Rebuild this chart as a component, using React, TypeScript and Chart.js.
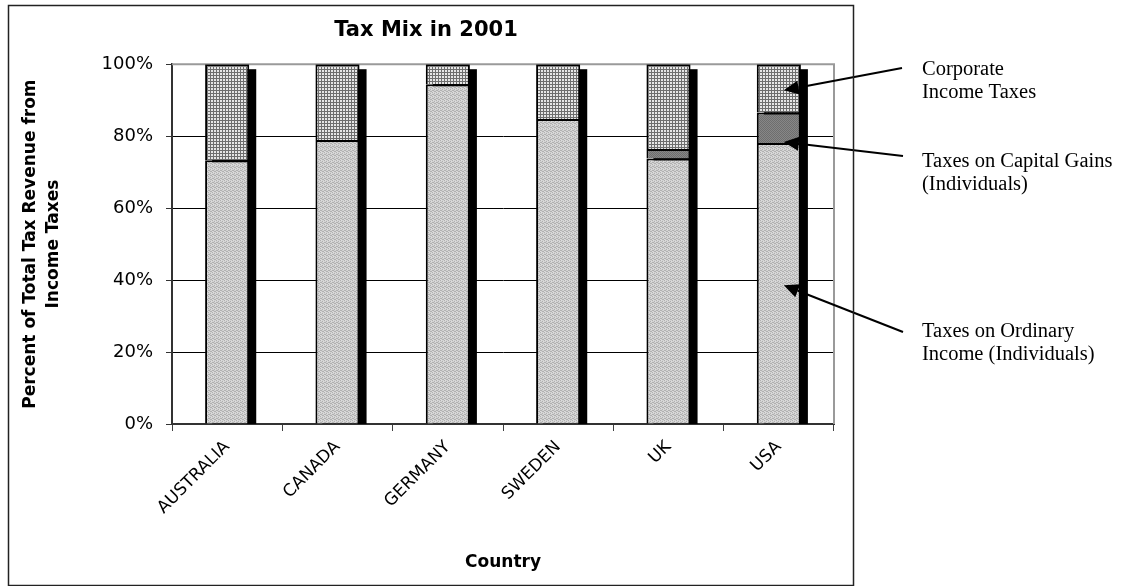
import { useEffect, useRef } from "react";
import { Chart, registerables } from "chart.js";

Chart.register(...registerables);

// Share of total income-tax revenue (%) by country, 2001
const countries = ["AUSTRALIA", "CANADA", "GERMANY", "SWEDEN", "UK", "USA"];
const ordinaryIncome = [73.3, 78.9, 94.4, 84.8, 73.8, 78.1];
const capitalGains = [0, 0, 0, 0, 2.6, 8.5];
const corporateIncome = [26.7, 21.1, 5.6, 15.2, 23.6, 13.4];
const yTickValues = [0, 20, 40, 60, 80, 100];

const SANS = "'DejaVu Sans', 'Liberation Sans', Arial, sans-serif";
const SERIF = "'Liberation Serif', 'Times New Roman', serif";

function makePattern(size: number, paint: (c: CanvasRenderingContext2D) => void) {
  const tile = document.createElement("canvas");
  tile.width = size;
  tile.height = size;
  const c = tile.getContext("2d")!;
  paint(c);
  const host = document.createElement("canvas").getContext("2d")!;
  return host.createPattern(tile, "repeat")!;
}

// light grey fine texture
const ordinaryFill = () =>
  makePattern(4, (c) => {
    c.fillStyle = "#d2d2d2";
    c.fillRect(0, 0, 4, 4);
    c.fillStyle = "#b0b0b0";
    [[0, 0], [2, 1], [1, 2], [3, 3], [2, 3], [0, 2]].forEach(([x, y]) => c.fillRect(x, y, 1, 1));
    c.fillStyle = "#dcdcdc";
    [[1, 0], [3, 1], [0, 3]].forEach(([x, y]) => c.fillRect(x, y, 1, 1));
  });

// medium grey, slightly speckled
const capitalFill = () =>
  makePattern(2, (c) => {
    c.fillStyle = "#878787";
    c.fillRect(0, 0, 2, 2);
    c.fillStyle = "#6e6e6e";
    c.fillRect(0, 0, 1, 1);
    c.fillRect(1, 1, 1, 1);
  });

// small grid of white cells
const corporateFill = () =>
  makePattern(3, (c) => {
    c.fillStyle = "#e6e6e6";
    c.fillRect(0, 0, 3, 3);
    c.fillStyle = "#6e6e6e";
    c.fillRect(0, 0, 3, 1);
    c.fillRect(0, 0, 1, 3);
  });

// black drop shadow behind each stacked column
const columnShadow = {
  id: "columnShadow",
  beforeDatasetsDraw(chart: any) {
    const { ctx } = chart;
    const base = chart.scales.y.getPixelForValue(0);
    const top = chart.getDatasetMeta(chart.data.datasets.length - 1);
    ctx.save();
    ctx.fillStyle = "#000";
    top.data.forEach((bar: any) => {
      const { x, y, width } = bar.getProps(["x", "y", "width"], true);
      ctx.fillRect(x - width / 2 + 7, y + 5, width, base - y - 5);
    });
    ctx.restore();
  },
};

// grey plot-area border on top and right, plus outer chart frame
const frames = {
  id: "frames",
  beforeDatasetsDraw(chart: any) {
    const { ctx, chartArea } = chart;
    ctx.save();
    ctx.strokeStyle = "#9a9a9a";
    ctx.lineWidth = 2;
    ctx.beginPath();
    ctx.moveTo(chartArea.left, chartArea.top);
    ctx.lineTo(chartArea.right, chartArea.top);
    ctx.lineTo(chartArea.right, chartArea.bottom);
    ctx.stroke();
    ctx.restore();
  },
  afterDraw(chart: any) {
    const { ctx } = chart;
    ctx.save();
    ctx.strokeStyle = "#222";
    ctx.lineWidth = 1.5;
    ctx.strokeRect(8.5, 5.5, 845, 580);
    ctx.restore();
  },
};

type Note = {
  lines: string[];
  dataset: number;
  where: "mid" | "base";
  textX: number;
  baseline: number;
  lineEnd: [number, number];
};

const notes: Note[] = [
  { lines: ["Corporate", "Income Taxes"], dataset: 2, where: "mid", textX: 922, baseline: 75, lineEnd: [902, 68] },
  { lines: ["Taxes on Capital Gains", "(Individuals)"], dataset: 1, where: "base", textX: 922, baseline: 167, lineEnd: [903, 156] },
  { lines: ["Taxes on Ordinary", "Income (Individuals)"], dataset: 0, where: "mid", textX: 922, baseline: 337, lineEnd: [903, 332] },
];

// callout labels with arrows pointing into the USA column
const callouts = {
  id: "callouts",
  afterDatasetsDraw(chart: any) {
    const { ctx } = chart;
    const last = chart.data.labels.length - 1;
    ctx.save();
    ctx.fillStyle = "#000";
    ctx.strokeStyle = "#000";
    ctx.lineWidth = 2;
    ctx.font = `20.5px ${SERIF}`;
    ctx.textBaseline = "alphabetic";
    ctx.textAlign = "left";
    notes.forEach((n) => {
      const bar = chart.getDatasetMeta(n.dataset).data[last];
      const { x, y, base } = bar.getProps(["x", "y", "base"], true);
      const tipX = x + 5;
      const tipY = n.where === "mid" ? (y + base) / 2 + 2 : base - 1;
      const [ex, ey] = n.lineEnd;
      const dx = tipX - ex;
      const dy = tipY - ey;
      const len = Math.hypot(dx, dy);
      const ux = dx / len;
      const uy = dy / len;
      const headLen = 15;
      const headHalf = 7;
      const bx = tipX - ux * headLen;
      const by = tipY - uy * headLen;
      ctx.beginPath();
      ctx.moveTo(ex, ey);
      ctx.lineTo(bx, by);
      ctx.stroke();
      ctx.beginPath();
      ctx.moveTo(tipX, tipY);
      ctx.lineTo(bx - uy * headHalf, by + ux * headHalf);
      ctx.lineTo(bx + uy * headHalf, by - ux * headHalf);
      ctx.closePath();
      ctx.fill();
      n.lines.forEach((t, i) => ctx.fillText(t, n.textX, n.baseline + i * 23));
    });
    ctx.restore();
  },
};

export default function App() {
  const ref = useRef<HTMLCanvasElement>(null);

  useEffect(() => {
    document.body.style.margin = "0";
    const canvas = ref.current!;
    const chart = new Chart(canvas, {
      type: "bar",
      data: {
        labels: countries,
        datasets: [
          {
            label: "Taxes on Ordinary Income (Individuals)",
            data: ordinaryIncome,
            backgroundColor: ordinaryFill(),
            borderColor: "#000",
            borderWidth: 2,
          },
          {
            label: "Taxes on Capital Gains (Individuals)",
            data: capitalGains,
            backgroundColor: capitalFill(),
            borderColor: "#000",
            borderWidth: 2,
          },
          {
            label: "Corporate Income Taxes",
            data: corporateIncome,
            backgroundColor: corporateFill(),
            borderColor: "#000",
            borderWidth: 2,
          },
        ],
      },
      options: {
        responsive: false,
        animation: false,
        devicePixelRatio: 1,
        layout: { padding: { left: 8, top: 5, right: 287, bottom: 6 } },
        datasets: { bar: { barPercentage: 0.4, categoryPercentage: 1 } },
        plugins: {
          legend: { display: false },
          tooltip: { enabled: false },
          title: {
            display: true,
            text: "Tax Mix in 2001",
            color: "#000",
            font: { family: SANS, size: 21, weight: "bold", lineHeight: 1.2 },
            padding: { top: 13, bottom: 21 },
          },
        },
        scales: {
          x: {
            stacked: true,
            grid: {
              display: true,
              drawOnChartArea: false,
              drawTicks: true,
              tickLength: 7,
              color: "#404040",
              offset: true,
            },
            border: { display: true, color: "#333", width: 2 },
            ticks: {
              color: "#000",
              font: { family: SANS, size: 17 },
              minRotation: 45,
              maxRotation: 45,
              autoSkip: false,
              padding: 6,
            },
            title: {
              display: true,
              text: "Country",
              color: "#000",
              font: { family: SANS, size: 17, weight: "bold", lineHeight: 1.2 },
              padding: { top: 0, bottom: 7 },
            },
            afterFit: (s: any) => {
              s.height = 156;
            },
          },
          y: {
            stacked: true,
            min: 0,
            max: 100,
            afterBuildTicks: (s: any) => {
              s.ticks = yTickValues.map((v) => ({ value: v }));
            },
            grid: {
              color: (c: any) => (c.tick && c.tick.value === 100 ? "#9a9a9a" : "#000"),
              tickColor: "#333",
              tickLength: 6,
              lineWidth: 1,
            },
            border: { display: true, color: "#333", width: 2 },
            ticks: {
              color: "#000",
              font: { family: SANS, size: 18 },
              padding: 13,
              callback: (v: any) => `${v}%`,
            },
            title: {
              display: true,
              text: ["Percent of Total Tax Revenue from", "Income Taxes"],
              color: "#000",
              font: { family: SANS, size: 17, weight: "bold", lineHeight: 1.3 },
              padding: { top: 12, bottom: 0 },
            },
            afterFit: (s: any) => {
              s.width = 164;
            },
          },
          spacer: {
            type: "linear",
            position: "right",
            display: true,
            grid: { display: false },
            ticks: { display: false },
            border: { display: false },
            afterFit: (s: any) => {
              s.width = 10;
            },
          },
        },
      } as any,
      plugins: [columnShadow, frames, callouts],
    });
    return () => chart.destroy();
  }, []);

  return (
    <div style={{ width: 1131, height: 586, background: "#fff" }}>
      <canvas ref={ref} width={1131} height={586} style={{ display: "block" }} />
    </div>
  );
}
